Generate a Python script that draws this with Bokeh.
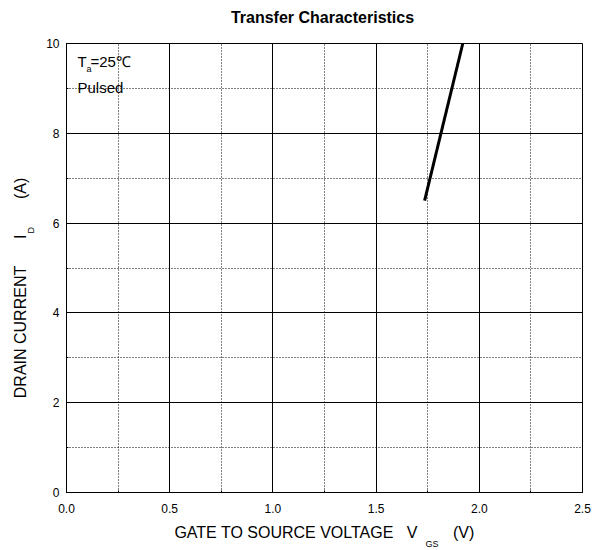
import math
from bokeh.plotting import figure
from bokeh.models import Range1d, SingleIntervalTicker, Label, NumeralTickFormatter
from bokeh.embed import file_html
from bokeh.resources import INLINE

# ---- data ----
vgs = [1.735, 1.92]          # gate-source voltage (V)
id_current = [6.5, 10.0]     # drain current (A)
x_limits = [0.0, 2.5]
y_limits = [0.0, 10.0]

FONT = "Liberation Sans"
NB = "\u00a0"

p = figure(width=600, height=550,
           x_range=Range1d(*x_limits), y_range=Range1d(*y_limits),
           output_backend="svg", toolbar_location=None,
           min_border_left=66, min_border_right=18,
           min_border_top=43, min_border_bottom=58)

p.background_fill_color = "white"
p.border_fill_color = "white"
p.outline_line_color = "black"
p.outline_line_width = 1
p.outline_line_alpha = 1

p.xaxis.ticker = SingleIntervalTicker(interval=0.5, num_minor_ticks=2)
p.yaxis.ticker = SingleIntervalTicker(interval=2, num_minor_ticks=2)
p.xaxis.formatter = NumeralTickFormatter(format="0.0")
p.yaxis.formatter = NumeralTickFormatter(format="0")

for ax in (p.xaxis, p.yaxis):
    ax.axis_line_color = "black"
    ax.axis_line_width = 1
    ax.major_tick_in = 3
    ax.major_tick_out = 0
    ax.minor_tick_in = 2
    ax.minor_tick_out = 0
    ax.major_tick_line_color = "black"
    ax.minor_tick_line_color = "black"
    ax.major_label_text_font = FONT
    ax.major_label_text_font_size = "12px"
    ax.major_label_text_color = "black"
    ax.axis_label_text_font = FONT
    ax.axis_label_text_font_size = "16px"
    ax.axis_label_text_font_style = "normal"
    ax.axis_label_text_color = "black"
p.xaxis.major_label_standoff = 11
p.yaxis.major_label_standoff = 7
p.xaxis.axis_label_standoff = 8
p.yaxis.axis_label_standoff = 14

p.xaxis.axis_label = "GATE TO SOURCE VOLTAGE" + NB * 3 + "V" + NB * 8 + "(V)"
p.yaxis.axis_label = "DRAIN CURRENT" + NB * 6 + "I" + NB * 8 + "(A)" + NB * 9

for g in (p.xgrid, p.ygrid):
    g.grid_line_color = "black"
    g.grid_line_alpha = 1
    g.grid_line_width = 1
    g.minor_grid_line_color = "black"
    g.minor_grid_line_alpha = 1
    g.minor_grid_line_width = 1
    g.minor_grid_line_dash = "1 2"

p.line(vgs, id_current, line_color="black", line_width=3)

def mk(x, y, text, size, align="left", bold=False, angle=0.0):
    return Label(x=x, y=y, x_units="screen", y_units="screen", text=text,
                 text_font=FONT, text_font_size=size, text_color="black",
                 text_align=align, text_baseline="middle", angle=angle,
                 text_font_style="bold" if bold else "normal")

# title and x subscript live in the top side panel (not clipped)
p.add_layout(mk(256, 26, "Transfer Characteristics", "16px", align="center", bold=True), "above")
p.add_layout(mk(359, -517.5, "GS", "9px"), "above")
# y subscript in the right side panel
p.add_layout(mk(-551.5, 259, "D", "9px", angle=math.pi / 2), "right")

# in-plot annotation
p.add_layout(mk(11, 431, "T", "15px"))
p.add_layout(mk(20, 424, "a", "9px"))
p.add_layout(mk(24, 431, "=25℃", "15px"))
p.add_layout(mk(11, 405, "Pulsed", "15px"))

open("out.html", "w").write(file_html(p, INLINE))
